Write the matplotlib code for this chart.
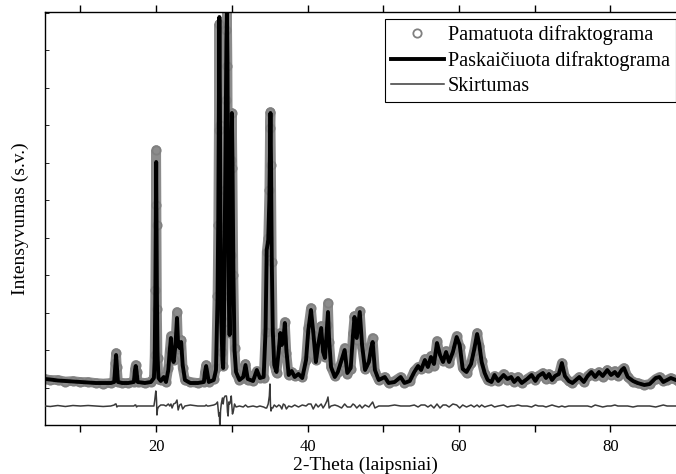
import numpy as np
import matplotlib.pyplot as plt

plt.rcParams['font.family'] = ['Liberation Serif', 'DejaVu Serif']

# 2-Theta (laipsniai)
two_theta = [
    5.3, 6.0, 7.0, 8.0, 9.0, 10.0, 11.0, 12.0, 13.0, 14.0,
    14.45, 14.6, 14.7, 14.8, 14.95, 15.5, 16.3, 17.05, 17.2, 17.3,
    17.4, 17.55, 18.5, 19.3, 19.7, 19.8, 19.88, 19.95, 20.0, 20.05,
    20.1, 20.18, 20.3, 20.6, 21.0, 21.3, 21.6, 21.8, 21.95, 22.1,
    22.3, 22.55, 22.75, 22.9, 23.1, 23.3, 23.5, 23.8, 24.5, 25.5,
    26.3, 26.45, 26.6, 26.75, 26.95, 27.6, 27.9, 28.1, 28.2, 28.27,
    28.35, 28.42, 28.5, 28.6, 28.75, 28.85, 28.95, 29.1, 29.2, 29.28,
    29.35, 29.42, 29.5, 29.6, 29.7, 29.82, 29.92, 30.0, 30.08, 30.2,
    30.35, 30.55, 31.0, 31.5, 31.8, 32.1, 32.8, 33.3, 33.7, 34.2,
    34.45, 34.6, 34.8, 34.95, 35.03, 35.1, 35.17, 35.27, 35.4, 35.6,
    35.9, 36.2, 36.4, 36.6, 36.8, 37.0, 37.2, 37.5, 37.9, 38.3,
    38.8, 39.3, 39.8, 40.1, 40.45, 40.75, 41.1, 41.4, 41.8, 42.05,
    42.3, 42.55, 42.7, 42.85, 43.1, 43.6, 44.0, 44.5, 44.9, 45.25,
    45.7, 46.0, 46.2, 46.5, 46.9, 47.2, 47.6, 48.1, 48.4, 48.6,
    48.9, 49.4, 50.2, 50.7, 51.5, 52.3, 52.8, 53.5, 54.1, 54.6,
    55.0, 55.5, 55.9, 56.3, 56.7, 57.1, 57.5, 57.9, 58.3, 58.7,
    59.2, 59.7, 60.1, 60.5, 61.0, 61.6, 62.0, 62.4, 62.7, 63.0,
    63.4, 63.8, 64.3, 64.7, 65.2, 65.9, 66.4, 66.9, 67.3, 67.8,
    68.3, 69.0, 69.6, 70.1, 70.5, 71.1, 71.5, 71.9, 72.3, 72.7,
    73.2, 73.6, 74.0, 74.5, 75.0, 75.9, 76.5, 77.0, 77.5, 78.0,
    78.5, 79.0, 79.6, 80.1, 80.6, 81.0, 81.5, 81.8, 82.3, 83.0,
    83.6, 84.5, 85.2, 86.0, 86.5, 87.0, 87.5, 88.0, 89.0, 89.5,
]

# paskaiciuota intensyvumo kreive (s.v.)
I_calc = [
    46, 45.5, 44.5, 44, 43.5, 43, 42.5, 42, 42, 42,
    43, 60, 70, 59, 43, 42, 42, 43, 55, 59,
    54, 43, 42, 43, 47, 65, 125, 205, 263, 195,
    125, 70, 47, 44, 48, 43, 55, 75, 87, 70,
    63, 80, 107, 80, 77, 83, 60, 45, 42, 42,
    43, 53, 59, 52, 43, 45, 55, 125, 205, 305,
    408, 325, 195, 105, 65, 57, 95, 225, 315, 385,
    412, 365, 225, 125, 90, 165, 255, 312, 265, 155,
    75, 53, 45, 48, 60, 46, 44, 55, 47, 48,
    95, 175, 185, 225, 275, 312, 265, 165, 95, 60,
    53, 75, 92, 80, 85, 102, 75, 50, 54, 48,
    51, 47, 65, 95, 115, 93, 63, 80, 97, 73,
    67, 95, 113, 85, 58, 48, 53, 65, 75, 52,
    57, 90, 108, 87, 113, 80, 55, 63, 77, 83,
    55, 45, 48, 42, 43, 48, 42, 44, 53, 59,
    55, 65, 58, 68, 61, 82, 70, 63, 73, 63,
    73, 88, 80, 56, 53, 61, 75, 91, 80, 63,
    52, 45, 43, 50, 44, 50, 46, 48, 43, 47,
    42, 46, 50, 44, 49, 52, 47, 51, 45, 49,
    51, 62, 49, 44, 42, 48, 43, 49, 53, 48,
    53, 49, 55, 50, 53, 49, 55, 57, 48, 44,
    42, 40, 41, 47, 48, 43, 45, 47, 44, 43,
]

# pamatuota intensyvumo kreive (s.v.)
I_obs = [
    46, 45, 45, 43.5, 44, 43, 43, 42, 41.5, 42,
    44, 62, 72, 58, 43, 42, 42, 43, 56, 60,
    53, 43, 42, 43, 47, 70, 135, 220, 275, 200,
    116, 67, 46, 45, 49, 43, 57, 75, 89, 68,
    65, 83, 113, 76, 78, 85, 57, 45, 43, 42,
    43, 53, 60, 52, 43, 46, 57, 129, 200, 295,
    401, 300, 190, 107, 73, 59, 103, 235, 325, 395,
    417, 359, 215, 129, 92, 170, 265, 312, 257, 150,
    77, 52, 45, 47, 61, 45, 44, 54, 47, 47,
    93, 173, 187, 235, 297, 313, 260, 163, 93, 61,
    52, 76, 92, 77, 87, 103, 72, 50, 53, 49,
    50, 48, 65, 97, 117, 90, 65, 79, 99, 71,
    68, 100, 122, 83, 58, 49, 53, 63, 77, 51,
    56, 92, 109, 85, 114, 78, 56, 62, 79, 87,
    53, 45, 48, 42, 44, 48, 42, 44, 54, 58,
    56, 66, 57, 69, 59, 84, 68, 64, 74, 62,
    75, 89, 78, 57, 52, 62, 74, 92, 79, 64,
    51, 45, 44, 49, 44, 51, 45, 48, 43, 48,
    42, 46, 49, 45, 49, 52, 46, 51, 46, 49,
    50, 62, 48, 44, 42, 48, 43, 49, 52, 49,
    53, 48, 55, 50, 54, 49, 55, 57, 48, 43,
    42, 40, 41, 46, 48, 44, 45, 47, 44, 43,
]

diff_offset = 19

x = np.array(two_theta)
y_calc = np.array(I_calc)
y_obs = np.array(I_obs)
y_diff = y_obs - y_calc + diff_offset

fig = plt.figure(figsize=(6.76, 4.74), dpi=100)
ax = fig.add_axes([45 / 676, 49 / 474, 641 / 676, 413 / 474])

# pamatuota: pilka juosta + apskritimai
ax.plot(x, y_obs, color="#8c8c8c", lw=7, solid_capstyle="round", zorder=1)
ax.plot(x, y_obs, "o", mfc="none", mec="#808080", ms=6, mew=1.3, zorder=2,
        label="Pamatuota difraktograma")
ax.plot(x, y_calc, color="black", lw=2.8, zorder=3, label="Paskaičiuota difraktograma")
ax.plot(x, y_diff, color="#3a3a3a", lw=1.1, zorder=3, label="Skirtumas")

ax.set_xlim(5.31, 89.38)
ax.set_ylim(0, 413)
ax.set_xticks([20, 40, 60, 80])
ax.set_xticks([10, 30, 50, 70, 90], minor=True)
ax.set_yticks(np.arange(0, 413, 37.5))
ax.set_yticklabels([])
ax.spines["right"].set_visible(False)
for s in ["left", "bottom", "top"]:
    ax.spines[s].set_linewidth(1.0)

ax.tick_params(axis="x", which="both", direction="out", length=5, width=1,
               labelsize=12, pad=5, top=True)
ax.tick_params(axis="y", which="both", direction="in", length=3, width=0.6, right=False)

ax.set_xlabel("2-Theta (laipsniai)", fontsize=14, labelpad=1)
ax.set_ylabel("Intensyvumas (s.v.)", fontsize=14, labelpad=8)

ax.legend(loc="upper left", bbox_to_anchor=(385 / 676, 1 - 19 / 474),
          bbox_transform=fig.transFigure, fontsize=14.6, frameon=True, fancybox=False,
          edgecolor="black", framealpha=1, borderaxespad=0, borderpad=0.3,
          labelspacing=0.3, handlelength=2.6, handletextpad=0.2)
ax.get_legend().get_frame().set_linewidth(0.8)

plt.savefig("out.png", dpi=100)
